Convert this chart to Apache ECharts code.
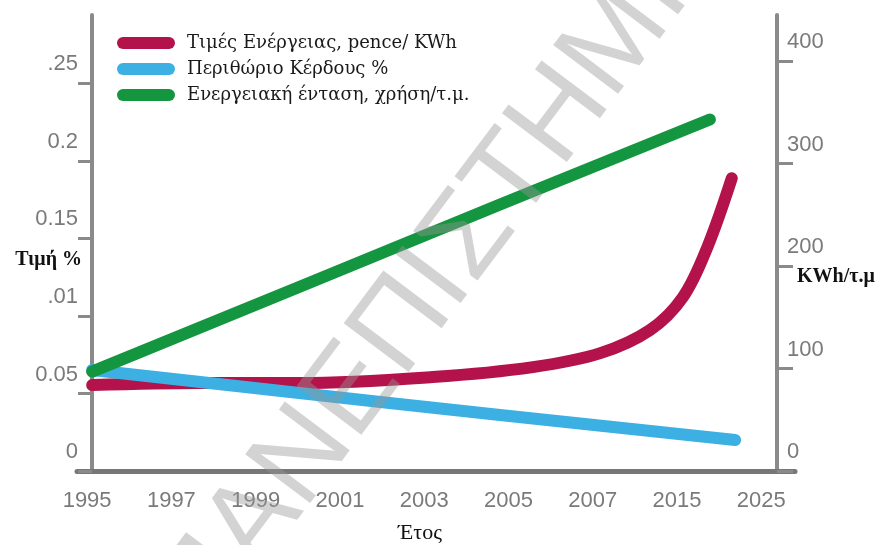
<!DOCTYPE html>
<html>
<head>
<meta charset="utf-8">
<script src="https://cdn.jsdelivr.net/npm/echarts@6/dist/echarts.min.js"></script>
<style>
  html, body { margin: 0; padding: 0; background: #fff; }
  #chart { width: 888px; height: 545px; }
</style>
</head>
<body>
<div id="chart"></div>
<script>
// x values are positions along the year axis: 0 = 1995 ... 8 = 2025
const years = ['1995', '1997', '1999', '2001', '2003', '2005', '2007', '2015', '2025'];
const yearPositions = [0, 1, 2, 3, 4, 5, 6, 7, 8];
const leftTicks = [0, 0.05, 0.1, 0.15, 0.2, 0.25];
const leftTickLabels = ['0', '0.05', '.01', '0.15', '0.2', '.25'];
const rightTicks = [0, 100, 200, 300, 400];

const seriesNames = ['Τιμές Ενέργειας, pence/ KWh', 'Περιθώριο Κέρδους %', 'Ενεργειακή ένταση, χρήση/τ.μ.'];
const priceData = [[0.06, 0.0554], [1.34, 0.0567], [2.53, 0.0567], [4.10, 0.0606], [5.29, 0.0670],
  [6.09, 0.0760], [6.68, 0.0909], [7.07, 0.1121], [7.36, 0.1443], [7.65, 0.1888]];
const marginData = [[0.06, 0.0651], [3.48, 0.0445], [4.9, 0.0361], [7.69, 0.0200]];
const intensityData = [[0.06, 97], [2.53, 180], [4.9, 260], [7.39, 343]];

const axisGrey = '#8a8a8a';
const labelFont = { fontFamily: 'Liberation Sans', fontSize: 22, color: '#7a7a7a' };
const serif = 'Liberation Serif';

const chart = echarts.init(document.getElementById('chart'), null, { renderer: 'canvas' });

const lineSeries = (name, data, color, yAxisIndex, smooth) => ({
  name: name,
  type: 'line',
  data: data,
  yAxisIndex: yAxisIndex,
  smooth: smooth,
  showSymbol: false,
  color: color,
  lineStyle: { width: 12, color: color, cap: 'round', join: 'round' }
});

chart.setOption({
  backgroundColor: '#fff',
  animation: false,
  grid: { left: 77, right: 93, top: 15, bottom: 74, outerBoundsMode: 'none', containLabel: false },
  legend: {
    orient: 'vertical',
    left: 117,
    top: 34,
    padding: 0,
    icon: 'path://M6,0 H52 A6,6 0 0 1 52,12 H6 A6,6 0 0 1 6,0 Z',
    itemWidth: 58,
    itemHeight: 12,
    itemGap: 8,
    data: seriesNames,
    textStyle: { fontFamily: 'DejaVu Serif', fontSize: 18, color: '#1a1a1a', padding: [0, 0, 0, 7] }
  },
  xAxis: {
    type: 'value',
    min: -0.12,
    max: 8.4,
    splitLine: { show: false },
    axisLine: { lineStyle: { color: '#777', width: 5 } },
    axisTick: { show: false },
    axisLabel: Object.assign({
      customValues: yearPositions,
      margin: 19,
      formatter: v => years[Math.round(v)]
    }, labelFont),
    name: 'Έτος',
    nameLocation: 'middle',
    nameGap: 51,
    nameMoveOverlap: false,
    nameTextStyle: { fontFamily: serif, fontSize: 22, color: '#111', padding: [0, 32, 0, 0] }
  },
  yAxis: [
    {
      type: 'value',
      min: 0,
      max: 0.294,
      offset: -15,
      splitLine: { show: false },
      axisLine: { show: true, lineStyle: { color: axisGrey, width: 4 } },
      axisTick: { customValues: leftTicks, length: 14, lineStyle: { color: axisGrey, width: 3 } },
      axisLabel: Object.assign({
        customValues: leftTicks,
        margin: 14,
        verticalAlign: 'bottom',
        padding: [0, 0, 8, 0],
        formatter: v => leftTickLabels[leftTicks.findIndex(t => Math.abs(t - v) < 1e-9)]
      }, labelFont),
      name: 'Τιμή %',
      nameLocation: 'middle',
      nameRotate: 0,
      nameGap: 10,
      nameMoveOverlap: false,
      nameTextStyle: { fontFamily: serif, fontSize: 20, fontWeight: 'bold', color: '#111', verticalAlign: 'top', lineHeight: 34 }
    },
    {
      type: 'value',
      min: 0,
      max: 445,
      offset: -18,
      position: 'right',
      splitLine: { show: false },
      axisLine: { show: true, lineStyle: { color: axisGrey, width: 4 } },
      axisTick: { customValues: rightTicks, length: 16, lineStyle: { color: axisGrey, width: 3 } },
      axisLabel: Object.assign({
        customValues: rightTicks,
        margin: 10,
        verticalAlign: 'bottom',
        padding: [0, 0, 8, 0]
      }, labelFont),
      name: 'KWh/τ.μ',
      nameLocation: 'middle',
      nameRotate: 0,
      nameGap: 20,
      nameMoveOverlap: false,
      nameTextStyle: { fontFamily: serif, fontSize: 20, fontWeight: 'bold', color: '#111', verticalAlign: 'top', lineHeight: 68 }
    }
  ],
  series: [
    lineSeries(seriesNames[0], priceData, '#b3134a', 0, 0.35),
    lineSeries(seriesNames[1], marginData, '#3cb0e2', 0, false),
    lineSeries(seriesNames[2], intensityData, '#14953f', 1, false)
  ],
  graphic: [{
    type: 'text',
    x: 450,
    y: 263,
    rotation: 0.925,
    z: 100,
    silent: true,
    style: {
      text: 'ΠΑΝΕΠΙΣΤΗΜΙΟ',
      font: '118px "Liberation Sans"',
      fill: 'rgba(150,150,150,0.42)',
      align: 'center',
      verticalAlign: 'middle'
    }
  }]
});
</script>
</body>
</html>
